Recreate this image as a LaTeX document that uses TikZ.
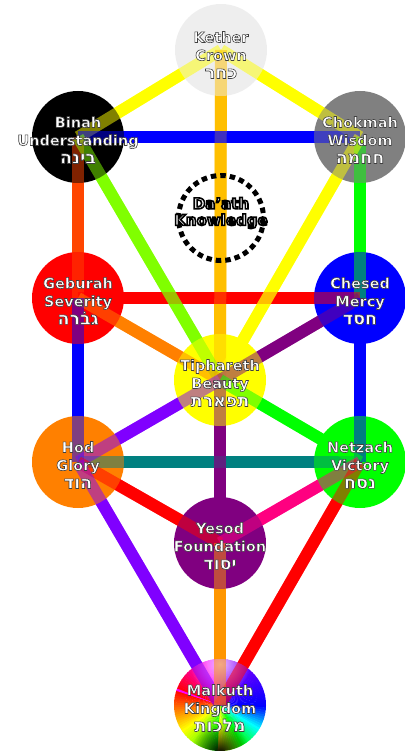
\documentclass[tikz,border=0pt]{standalone}
\usepackage{fontspec}
\setmainfont{DejaVu Sans}
\newfontfamily\hebfont[Script=Hebrew]{DejaVu Sans}
\TeXXeTstate=1
\usetikzlibrary{fadings}
\tikzfading[name=glow, inner color=transparent!0, outer color=transparent!100]
\definecolor{pyellow}{RGB}{255,255,0}
\definecolor{amber}{RGB}{255,191,0}
\definecolor{orangered}{RGB}{255,69,0}
\definecolor{chartreuse}{RGB}{128,255,0}
\definecolor{lgreen}{RGB}{0,255,0}
\definecolor{pred}{RGB}{255,0,0}
\definecolor{porange}{RGB}{255,128,0}
\definecolor{yorange}{RGB}{255,150,0}
\definecolor{ppurple}{RGB}{128,0,128}
\definecolor{pviolet}{RGB}{128,0,255}
\definecolor{pteal}{RGB}{0,128,128}
\definecolor{ppink}{RGB}{255,0,128}
\definecolor{pblue}{RGB}{0,0,255}
\definecolor{kgrey}{RGB}{238,238,238}
\definecolor{cgrey}{RGB}{128,128,128}
% outlined text: fill white, stroke dark
\newcommand\olon[2]{\special{pdf:code 2 Tr #1 w #2 RG}}
\newcommand\oloff{\special{pdf:code 0 Tr}}
\newcommand\sephlabel[3]{\olon{0.6}{0.25 0.25 0.25}#1\\#2\\{\hebfont\bfseries\fontsize{17.5}{19}\selectfont\beginR #3\endR}\oloff}
\newcommand\treepaths[1]{%
  \foreach \u/\v/\c in {Ke/Bi/pyellow, Ke/Ch/pyellow, Ke/Ti/amber, Bi/Ch/pblue,
    Bi/Ge/orangered, Ch/Cs/lgreen, Ge/Cs/pred, Bi/Ti/chartreuse, Ch/Ti/pyellow,
    Ge/Ti/porange, Cs/Ti/ppurple, Ge/Ho/pblue, Cs/Ne/pblue, Ho/Ne/pteal,
    Ti/Ho/pviolet, Ti/Ne/lgreen, Ti/Ye/ppurple, Ho/Ye/pred, Ne/Ye/ppink,
    Ho/Ma/pviolet, Ne/Ma/pred, Ye/Ma/yorange}
  {\draw[#1, draw=\c] (\u.center) -- (\v.center);}}
\begin{document}
\begin{tikzpicture}[x=1pt,y=-1pt,
  seph/.style={circle, minimum size=92pt, inner sep=0pt, outer sep=0pt},
  lbl/.style={align=center, text=white, font=\bfseries\fontsize{14.5}{18}\selectfont, inner sep=0pt},
  pathline/.style={line width=12pt},
  halfline/.style={line width=12pt, draw opacity=0.5}]
\useasboundingbox (0,0) rectangle (404,751);
% positions
\node[seph] (Ke) at (221,50) {};
\node[seph] (Bi) at (78,137) {};
\node[seph] (Ch) at (360,137) {};
\node[seph] (Da) at (221,218) {};
\node[seph] (Ge) at (78,298) {};
\node[seph] (Cs) at (360,298) {};
\node[seph] (Ti) at (220,380) {};
\node[seph] (Ho) at (78,462) {};
\node[seph] (Ne) at (360,462) {};
\node[seph] (Ye) at (220,543) {};
\node[seph] (Ma) at (220,705) {};
% paths
\treepaths{pathline}
% spheres
\foreach \n/\c in {Ke/kgrey, Bi/black, Ch/cgrey, Ge/pred, Cs/pblue, Ti/pyellow, Ho/porange, Ne/lgreen, Ye/ppurple}
  {\fill[\c] (\n.center) circle (46);}
\begin{scope}
  \clip (Ma.center) circle (46);
  \foreach \a in {0,3,...,357}{
    \pgfmathsetmacro\t{mod(810-\a,360)}
    \pgfmathsetmacro\h{\t<90 ? 60+2*\t : (\t<180 ? 240+(\t-90)*0.4444 : 280+(\t-180)*1.1111)}
    \pgfmathsetmacro\hh{mod(\h,360)}
    \definecolor{wc}{Hsb}{\hh,1,1}
    \fill[wc] (Ma.center) -- ++(\a:50) arc[start angle=\a, end angle=\a+3.6, radius=50] -- cycle;
  }
  \fill[white, path fading=glow, fill opacity=0.75] (220,664) circle (30);
  \fill[black, path fading=glow] (220,753) circle (30);
\end{scope}
% translucent paths over spheres
\treepaths{halfline}
% Da'ath
\draw[line width=5pt, dash pattern=on 5.5pt off 4pt] (Da.center) circle (42.5);
% labels
\node[lbl] (Ket) at ([yshift=-5pt]Ke.center) {\sephlabel{Kether}{Crown}{כחר}};
\node[lbl] (Bit) at ([yshift=-3pt]Bi.center) {\sephlabel{Binah}{Understanding}{בינה}};
\node[lbl] (Cht) at ([yshift=-3pt]Ch.center) {\sephlabel{Chokmah}{Wisdom}{חחמה}};
\node[lbl] (Get) at ([yshift=-3pt]Ge.center) {\sephlabel{Geburah}{Severity}{גבֹרה}};
\node[lbl] (Cst) at ([yshift=-3pt]Cs.center) {\sephlabel{Chesed}{Mercy}{חסד}};
\node[lbl] (Tit) at ([yshift=-3pt]Ti.center) {\sephlabel{Tiphareth}{Beauty}{תפארת}};
\node[lbl] (Hot) at ([yshift=-3pt]Ho.center) {\sephlabel{Hod}{Glory}{הוד}};
\node[lbl] (Net) at ([yshift=-3pt]Ne.center) {\sephlabel{Netzach}{Victory}{נסח}};
\node[lbl] (Yet) at ([yshift=-3pt]Ye.center) {\sephlabel{Yesod}{Foundation}{יסוד}};
\node[lbl] (Mat) at ([yshift=-3pt]Ma.center) {\sephlabel{Malkuth}{Kingdom}{מלכות}};
\node[lbl, font=\bfseries\fontsize{15}{16.5}\selectfont] (Dat) at ([yshift=5pt]Da.center) {\olon{1.6}{0 0 0}Da'ath\\Knowledge\oloff};
\end{tikzpicture}
\end{document}
